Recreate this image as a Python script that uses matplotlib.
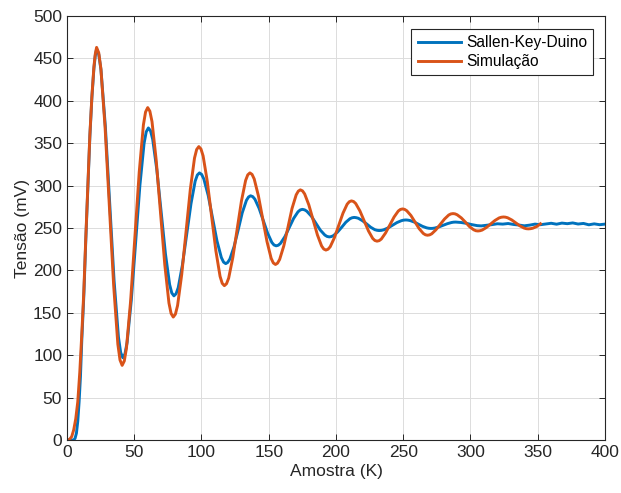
import numpy as np
import matplotlib.pyplot as plt

plt.rcParams['font.family'] = ['Liberation Sans', 'DejaVu Sans']

# Sallen-Key-Duino (medido)
x_med = [1, 3, 5, 6, 7, 8, 9, 10, 11, 12.5, 14, 15.5, 17, 18.5, 20, 21,
         22, 23.6, 25.25, 28.5, 31.75, 35, 38.25, 39.9,
         41.5, 43.1, 44.7, 47.8, 51, 54.2, 57.3, 58.9,
         60.5, 62.1, 63.7, 66.8, 70, 73.2, 76.3, 77.9,
         79.5, 81.1, 82.7, 85.8, 89, 92.2, 95.3, 96.9,
         98.5, 100.1, 101.75, 105, 108.25, 111.5, 114.75, 116.4,
         118, 119.5, 121.1, 124.2, 127.3, 130.3, 133.4, 135,
         136.5, 138.1, 139.7, 142.8, 146, 149.2, 152.3, 153.9,
         155.5, 157.1, 158.75, 162, 165.25, 168.5, 171.75, 173.4,
         175, 176.7, 178.3, 181.7, 185, 188.3, 191.7, 193.3,
         195, 196.5, 198.1, 201.2, 204.3, 207.3, 210.4, 212,
         213.5, 215, 216.6, 219.7, 222.8, 225.8, 228.9, 230.5,
         232, 233.7, 235.3, 238.7, 242, 245.3, 248.7, 250.3,
         252, 253.5, 255.1, 258.2, 261.3, 264.3, 267.4, 269,
         270.5, 272, 273.6, 276.7, 279.8, 282.8, 285.9, 287.5,
         289, 293, 297, 301, 305, 308, 312, 316, 320, 324, 328, 332, 336,
         340, 344, 348, 352, 356, 360, 364, 368, 372, 376, 380, 384, 388,
         392, 396, 400]
y_med = [0, 0, 0, 2, 8, 22, 45, 75, 118, 170, 237, 298, 358, 404, 438, 453,
         461, 454.8, 436.6, 370, 279, 188, 121.4, 103.2,
         97, 101.6, 115.2, 164.8, 232.5, 300.3, 349.8, 363.4,
         368, 364.6, 354.7, 318.5, 269, 219.5, 183.3, 173.4,
         170, 172.5, 179.7, 206.3, 242.5, 278.8, 305.3, 312.5,
         315, 313.2, 307.8, 288.3, 261.5, 234.8, 215.2, 209.8,
         208, 209.4, 213.4, 228, 248, 268, 282.6, 286.6,
         288, 287, 284, 273.3, 258.5, 243.8, 233, 230,
         229, 229.7, 231.9, 239.8, 250.5, 261.3, 269.1, 271.3,
         272, 271.4, 269.8, 263.9, 255.8, 247.6, 241.7, 240.1,
         239.5, 239.9, 241, 245.3, 251, 256.8, 261, 262.1,
         262.5, 262.2, 261.5, 258.6, 254.8, 250.9, 248, 247.3,
         247, 247.2, 247.8, 250.1, 253.3, 256.4, 258.7, 259.3,
         259.5, 259.3, 258.8, 257, 254.5, 252, 250.2, 249.7,
         249.5, 249.6, 250, 251.4, 253.3, 255.1, 256.5, 256.9,
         257, 256.5, 255.5, 254, 252.8, 252.5, 253.2, 254, 255, 254.6, 255.3,
         254.2, 253.5, 252.6, 253.4, 254.6, 253.9, 254.8, 255.6, 254.5, 255.8,
         255.1, 256, 254.7, 255.4, 253.8, 254.9, 253.9, 254.6]

# Simulacao
x_sim = [1, 2, 3.5, 5, 6.5, 8, 9.5, 11, 12.5, 14, 15.5, 17, 18.5, 20, 21,
         22, 23.6, 25.2, 28.3, 31.5, 34.7, 37.8, 39.4,
         41, 42.6, 44.2, 47.3, 50.5, 53.7, 56.8, 58.4,
         60, 61.6, 63.2, 66.3, 69.5, 72.7, 75.8, 77.4,
         79, 80.6, 82.2, 85.3, 88.5, 91.7, 94.8, 96.4,
         98, 99.6, 101.2, 104.3, 107.5, 110.7, 113.8, 115.4,
         117, 118.6, 120.2, 123.3, 126.5, 129.7, 132.8, 134.4,
         136, 137.6, 139.2, 142.3, 145.5, 148.7, 151.8, 153.4,
         155, 156.5, 158.1, 161.2, 164.3, 167.3, 170.4, 172,
         173.5, 175.1, 176.7, 179.8, 183, 186.2, 189.3, 190.9,
         192.5, 194.1, 195.7, 198.8, 202, 205.2, 208.3, 209.9,
         211.5, 213.1, 214.7, 217.8, 221, 224.2, 227.3, 228.9,
         230.5, 232.1, 233.7, 236.8, 240, 243.2, 246.3, 247.9,
         249.5, 251, 252.6, 255.7, 258.8, 261.8, 264.9, 266.5,
         268, 269.6, 271.2, 274.3, 277.5, 280.7, 283.8, 285.4,
         287, 288.5, 290.1, 293.2, 296.3, 299.3, 302.4, 304,
         305.5, 307.1, 308.7, 311.8, 315, 318.2, 321.3, 322.9,
         324.5, 326, 327.6, 330.7, 333.8, 336.8, 339.9, 341.5,
         343, 344.6, 346.2, 349.3, 352]
y_sim = [0, 1, 4, 12, 25, 45, 80, 125, 175, 240, 300, 360, 405, 440, 455,
         463, 456.6, 437.9, 369, 275.5, 182, 113, 94.4,
         88, 93.2, 108.4, 164, 240, 316, 371.6, 386.8,
         392, 387.8, 375.5, 330.3, 268.5, 206.8, 161.5, 149.2,
         145, 148.4, 158.5, 195.3, 245.5, 295.8, 332.5, 342.6,
         346, 343.2, 335, 305, 264, 223, 193, 184.8,
         182, 184.3, 190.9, 215.3, 248.5, 281.8, 306.1, 312.7,
         315, 313.2, 307.8, 288, 261, 234, 214.2, 208.8,
         207, 208.5, 212.9, 229, 251, 273, 289.1, 293.5,
         295, 293.8, 290.2, 277.3, 259.5, 241.8, 228.8, 225.2,
         224, 225, 227.9, 238.5, 253, 267.5, 278.1, 281,
         282, 281.2, 278.8, 270.1, 258.3, 246.4, 237.7, 235.3,
         234.5, 235.1, 237, 244, 253.5, 263, 270, 271.9,
         272.5, 272, 270.4, 264.8, 257, 249.3, 243.6, 242,
         241.5, 241.9, 243.2, 247.9, 254.3, 260.6, 265.3, 266.6,
         267, 266.7, 265.6, 261.9, 256.8, 251.6, 247.9, 246.8,
         246.5, 246.8, 247.6, 250.6, 254.8, 258.9, 261.9, 262.7,
         263, 262.8, 262.1, 259.5, 256, 252.5, 249.9, 249.2,
         249, 249.2, 249.7, 251.8, 255]

fig = plt.figure(figsize=(6.21, 4.93), dpi=100)
ax = fig.add_axes([0.1079, 0.1075, 0.8663, 0.86])

ax.plot(x_med, y_med, color='#0072BD', lw=2.1, label='Sallen-Key-Duino')
ax.plot(x_sim, y_sim, color='#D95319', lw=2.1, label='Simulação')

ax.set_xlim(0, 400)
ax.set_ylim(0, 500)
ax.set_xticks(np.arange(0, 401, 50))
ax.set_yticks(np.arange(0, 501, 50))
ax.grid(True, color='#dcdcdc', lw=0.7)
ax.set_axisbelow(True)
ax.tick_params(direction='in', top=True, right=True, length=4,
               labelsize=12.5, colors='#262626', width=0.7)
for s in ax.spines.values():
    s.set_color('#262626')
    s.set_linewidth(0.8)

ax.set_xlabel('Amostra (K)', fontsize=12.5, color='#262626', labelpad=3)
ax.set_ylabel('Tensão (mV)', fontsize=12.5, color='#262626', labelpad=2)

leg = ax.legend(loc='upper right', bbox_to_anchor=(0.978, 0.969),
                borderaxespad=0, fancybox=False, framealpha=1,
                edgecolor='#262626', fontsize=11.2, handlelength=2.8,
                handletextpad=0.3, labelspacing=0.25, borderpad=0.4)
leg.get_frame().set_linewidth(0.8)

plt.savefig('out.png', dpi=100)
